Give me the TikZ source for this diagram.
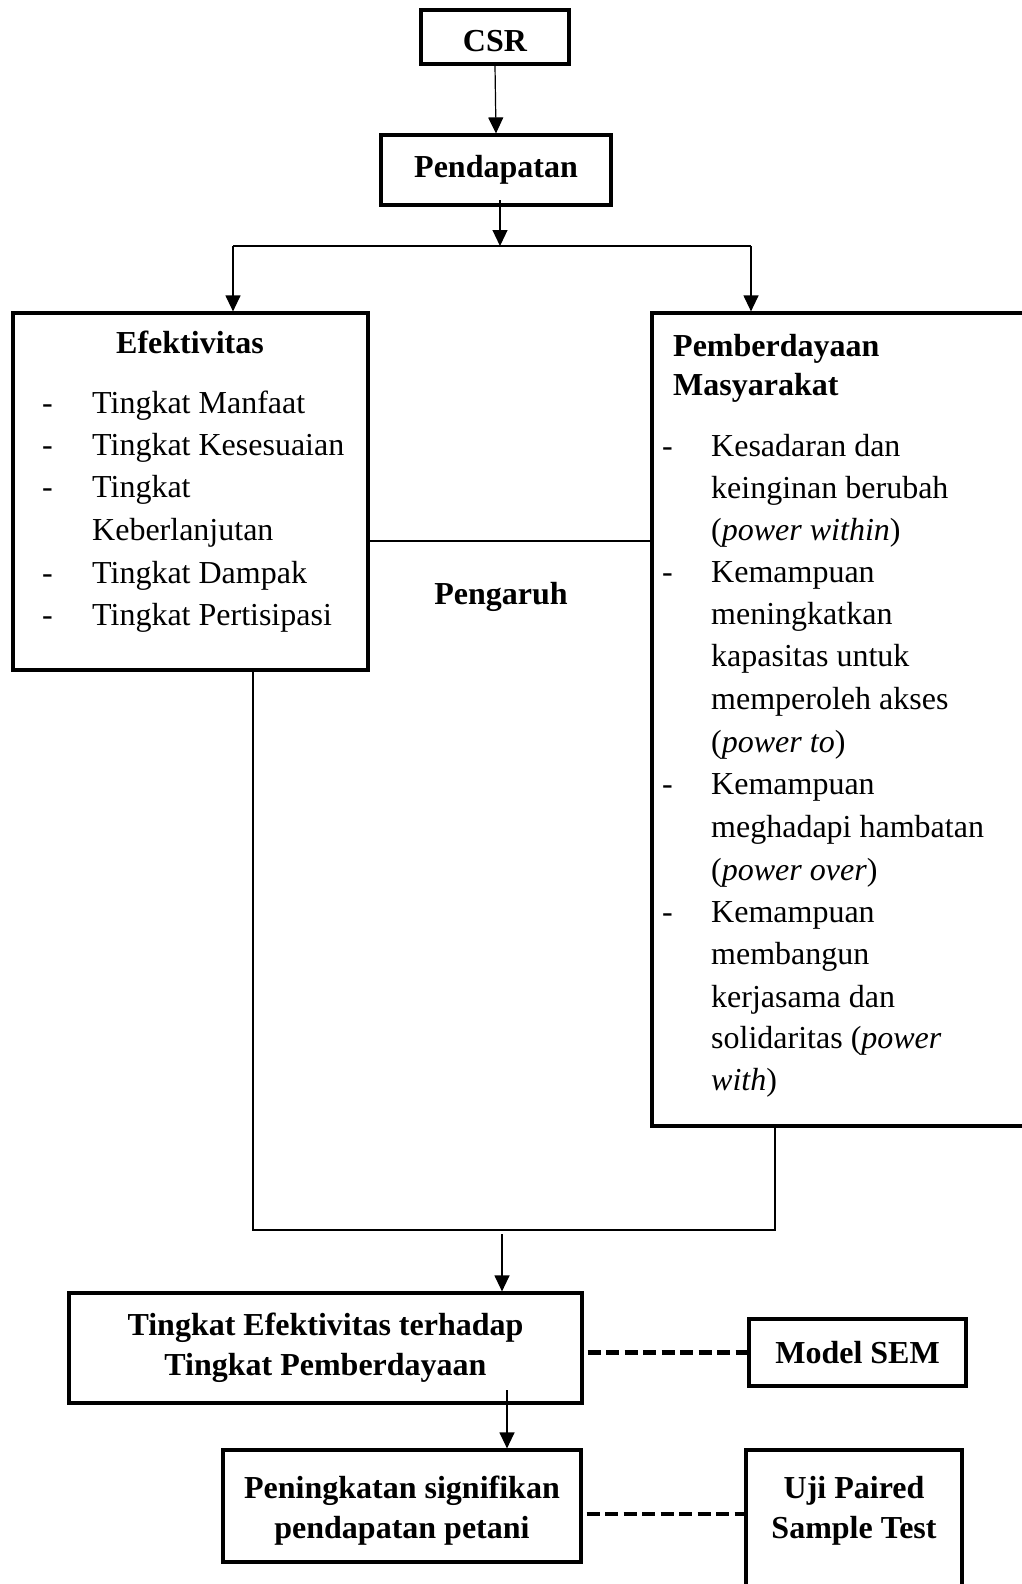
\documentclass[tikz,border=0pt]{standalone}
\usepackage{fontspec}
\setmainfont{Liberation Serif}
\usetikzlibrary{arrows.meta,positioning}

\begin{document}
\begin{tikzpicture}[x=1pt, y=-1pt,
		box/.style={draw, line width=3.2pt, rectangle, inner sep=0pt, align=center, font=\bfseries\fontsize{32}{40}\selectfont},
		txt/.style={anchor=west, inner sep=0pt, text height=22pt, text depth=8pt, font=\fontsize{32}{42}\selectfont},
		arr/.style={-{Triangle[length=16pt,width=15pt]}, line width=1.2pt},
		link/.style={line width=1.2pt},
		dashlink/.style={line width=4.4pt, dash pattern=on 13pt off 5.5pt, dash phase=-4pt}]
		\useasboundingbox (0,0) rectangle (1022,1584);
		\clip (0,0) rectangle (1022,1584);
		% boxes
		\node[box, minimum width=148, minimum height=54] (csr) at (495,37) {};
		\node[font=\bfseries\fontsize{32}{40}\selectfont] (csrtxt) at (495,41) {CSR};
		\node[box, minimum width=230, minimum height=70] (pend) at (496,170) {Pendapatan};
		\node[box, minimum width=355, minimum height=357] (efek) at (190.5,491.5) {};
		\node[box, minimum width=408, minimum height=813] (pemb) at (856,719.5) {};
		\node[box, minimum width=513, minimum height=110] (tingkat) at (325.5,1348) {Tingkat Efektivitas terhadap\\Tingkat Pemberdayaan};
		\node[box, minimum width=217, minimum height=67] (sem) at (857.5,1352.5) {Model SEM};
		\node[box, minimum width=358, minimum height=112] (naik) at (402,1506) {};
		\node[font=\bfseries\fontsize{32}{40}\selectfont, align=center] (naiktxt) at (402,1511) {Peningkatan signifikan\\pendapatan petani};
		\node[box, minimum width=216, minimum height=190] (uji) at (854,1545) {};
		\node[font=\bfseries\fontsize{32}{40}\selectfont, align=center] (ujitxt) at (854,1511) {Uji Paired\\Sample Test};
		\node[font=\bfseries\fontsize{32}{42}\selectfont] (pengaruh) at (501,597) {Pengaruh};
		
		% Efektivitas list
		\node[txt, anchor=center, font=\bfseries\fontsize{32}{42}\selectfont] (efektitle) at (190,346) {Efektivitas};
		\foreach \y in {406,448,490,576,618}
		\node[txt] at (42,\y) {-};
		\foreach \y/\txt in {406/Tingkat Manfaat, 448/Tingkat Kesesuaian, 490/Tingkat, 533/Keberlanjutan, 576/Tingkat Dampak, 618/Tingkat Pertisipasi}
		\node[txt] at (92,\y) {\txt};
		
		% Pemberdayaan list
		\node[txt, font=\bfseries\fontsize{32}{42}\selectfont] (pembtitle) at (673,349) {Pemberdayaan};
		\node[txt, font=\bfseries\fontsize{32}{42}\selectfont] at (673,388) {Masyarakat};
		\foreach \y in {449,575,787,915}
		\node[txt] at (662,\y) {-};
		\foreach \y/\txt in {449/Kesadaran dan, 491/keinginan berubah, 533/(\textit{power within}), 575/Kemampuan, 617/meningkatkan, 659/kapasitas untuk, 702/memperoleh akses, 745/(\textit{power to}), 787/Kemampuan, 830/meghadapi hambatan, 873/(\textit{power over}), 915/Kemampuan, 957/membangun, 1000/kerjasama dan, 1041/solidaritas (\textit{power}, 1083/\textit{with})}
		\node[txt] at (711,\y) {\txt};
		
		% connectors
		\coordinate (splitL) at (233,246);
		\coordinate (splitR) at (751,246);
		\coordinate (joinL) at (253,1230);
		\coordinate (joinR) at (775,1230);
		\draw[arr] (csr.south) -- (pend.north);
		\draw[arr] (500,200) -- (500,246);
		\draw[link] (splitL) -- (splitR);
		\draw[arr] (splitL) -- (splitL |- efek.north);
		\draw[arr] (splitR) -- (splitR |- pemb.north);
		\draw[link] (efek.east |- 0,541) -- (pemb.west |- 0,541);
		\draw[link] (joinL |- efek.south) -- (joinL) -- (joinR) -- (joinR |- pemb.south);
		\draw[arr] (502,1234) -- (502,1234 |- tingkat.north);
		\draw[arr] (507,1390) -- (507,1390 |- naik.north);
		\draw[dashlink] (tingkat.east |- sem.west) -- (sem.west);
		\draw[dashlink] (naik.east |- 0,1514) -- (uji.west |- 0,1514);
	\end{tikzpicture}
\end{document}
